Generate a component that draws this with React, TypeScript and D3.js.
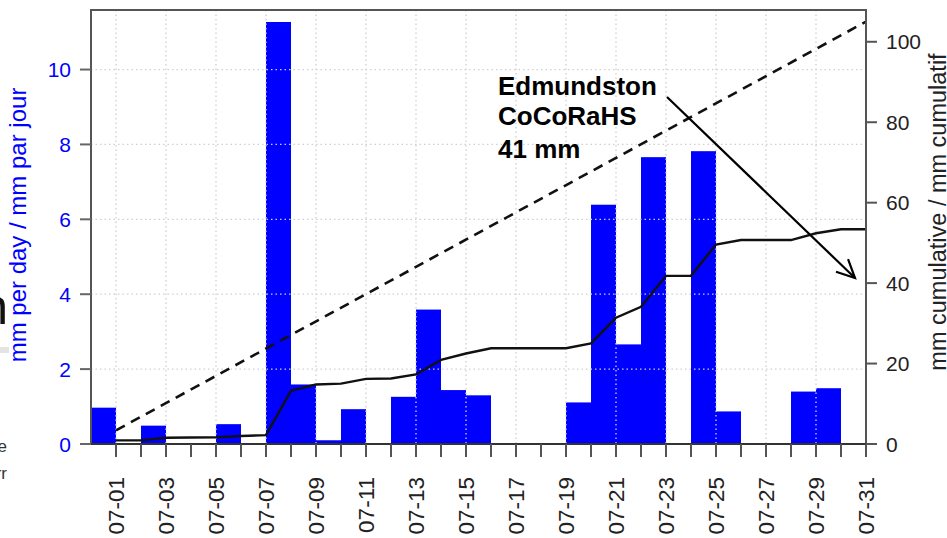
import React from "react";
import * as d3 from "d3";

// ---- data ----
const days: string[] = [
  "07-01","07-02","07-03","07-04","07-05","07-06","07-07","07-08","07-09","07-10",
  "07-11","07-12","07-13","07-14","07-15","07-16","07-17","07-18","07-19","07-20",
  "07-21","07-22","07-23","07-24","07-25","07-26","07-27","07-28","07-29","07-30","07-31",
];
const dailyMm: number[] = [
  0.97, 0, 0.49, 0, 0, 0.53, 0, 11.27, 1.59, 0.1,
  0.93, 0, 1.26, 3.59, 1.44, 1.3, 0, 0, 0, 1.11,
  6.39, 2.66, 7.66, 0, 7.82, 0.87, 0, 0, 1.4, 1.49, 0,
];
const cumulativeMm: number[] = [
  0.9, 0.9, 1.55, 1.6, 1.65, 2.0, 2.2, 13.25, 14.8, 15.0,
  16.2, 16.3, 17.3, 20.9, 22.5, 23.8, 23.8, 23.8, 23.8, 25.0,
  31.4, 34.1, 41.8, 41.8, 49.6, 50.7, 50.7, 50.7, 52.4, 53.4, 53.4,
];
const normalDays: string[] = ["07-01", "07-31"];
const normalMm: number[] = [3.4, 105];
const leftTicks: number[] = [0, 2, 4, 6, 8, 10];
const rightTicks: number[] = [0, 20, 40, 60, 80, 100];
const labelDays: string[] = days.filter((_, i) => i % 2 === 0);
const annotationLines: string[] = ["Edmundston", "CoCoRaHS", "41 mm"];

const FONT = "'Liberation Sans', Arial, Helvetica, sans-serif";

export default function App() {
  const W = 947, H = 538;
  const left = 91, right = 866, top = 10, bottom = 444;

  // day index: 0 = 06-30, i+1 = days[i]
  const x = d3.scaleLinear().domain([0, 31]).range([left, right]);
  const dayPos = (d: string) => days.indexOf(d) + 1;
  const yL = d3.scaleLinear().domain([0, 11.59]).range([bottom, top]);
  const yR = d3.scaleLinear().domain([0, 107.9]).range([bottom, top]);

  const cumLine = d3.line<number>()
    .x((_, i) => x(i + 1))
    .y((v) => yR(v));
  const normLine = d3.line<number>()
    .x((_, i) => x(dayPos(normalDays[i])))
    .y((v) => yR(v));

  // arrow geometry (annotation)
  const a0 = [667, 97], a1 = [855, 278];
  const ang = Math.atan2(a1[1] - a0[1], a1[0] - a0[0]);
  const hl = 20, spread = 0.45;
  const h1 = [a1[0] - hl * Math.cos(ang - spread), a1[1] - hl * Math.sin(ang - spread)];
  const h2 = [a1[0] - hl * Math.cos(ang + spread), a1[1] - hl * Math.sin(ang + spread)];

  const annBaselines = [95, 125, 157.5];

  return (
    <svg width={W} height={H} style={{ position: "absolute", left: 0, top: 0, background: "#fff" }}
      fontFamily={FONT}>
      <rect x={0} y={0} width={W} height={H} fill="#fff" />

      {/* residue of slide text at the left edge */}
      <text x={8} y={324} fontSize={50} textAnchor="end" fill="#111">n</text>
      <rect x={0} y={347} width={9} height={6} fill="#e4e4e4" />
      <text x={7} y={452} fontSize={17} textAnchor="end" fill="#333">ne</text>
      <text x={7} y={479} fontSize={17} textAnchor="end" fill="#333">rr</text>

      {/* bars */}
      {dailyMm.map((v, i) =>
        v > 0 ? (
          <rect key={days[i]} x={x(i)} y={yL(v)} width={x(i + 1) - x(i)} height={yL(0) - yL(v)}
            fill="#0000ff" />
        ) : null
      )}

      {/* gridlines */}
      {labelDays.map((d) => (
        <line key={"gv" + d} x1={x(dayPos(d))} x2={x(dayPos(d))} y1={top} y2={bottom}
          stroke="#cfcfd6" strokeWidth={1.3} strokeDasharray="1.5,3" />
      ))}
      {leftTicks.filter((t) => t > 0).map((t) => (
        <line key={"gh" + t} x1={left} x2={right} y1={yL(t)} y2={yL(t)}
          stroke="#cfcfd6" strokeWidth={1.3} strokeDasharray="1.5,3" />
      ))}

      {/* normal (dashed) and observed cumulative */}
      <path d={normLine(normalMm) || ""} fill="none" stroke="#111" strokeWidth={2.6}
        strokeDasharray="10,7" />
      <path d={cumLine(cumulativeMm) || ""} fill="none" stroke="#111" strokeWidth={2.4} />

      {/* frame */}
      <rect x={left} y={top} width={right - left} height={bottom - top} fill="none"
        stroke="#555" strokeWidth={2} />
      <line x1={left} x2={right} y1={bottom} y2={bottom} stroke="#333" strokeWidth={2} />

      {/* left axis */}
      {leftTicks.map((t) => (
        <g key={"lt" + t}>
          <line x1={left - 11} x2={left} y1={yL(t)} y2={yL(t)} stroke="#666" strokeWidth={2} />
          <text x={71} y={yL(t)} dy="0.36em" fontSize={21} textAnchor="end" fill="#0000ff">{t}</text>
        </g>
      ))}
      <text transform={`translate(26,${225}) rotate(-90)`} fontSize={24} textAnchor="middle"
        fill="#0000ff">mm per day / mm par jour</text>

      {/* right axis */}
      {rightTicks.map((t) => (
        <g key={"rt" + t}>
          <line x1={right} x2={right + 11} y1={yR(t)} y2={yR(t)} stroke="#555" strokeWidth={2} />
          <text x={886} y={yR(t)} dy="0.36em" fontSize={21} textAnchor="start" fill="#222">{t}</text>
        </g>
      ))}
      <text transform={`translate(946,${212}) rotate(-90)`} fontSize={23.5} textAnchor="middle"
        fill="#222">mm cumulative / mm cumulatif</text>

      {/* bottom axis */}
      {days.map((d) => (
        <line key={"bt" + d} x1={x(dayPos(d))} x2={x(dayPos(d))} y1={bottom} y2={bottom + 13}
          stroke="#555" strokeWidth={2} />
      ))}
      {labelDays.map((d) => (
        <text key={"bl" + d} transform={`translate(${x(dayPos(d))},477) rotate(-90)`}
          dy="0.36em" fontSize={22.5} textAnchor="end" fill="#222">{d}</text>
      ))}

      {/* annotation */}
      {annotationLines.map((s, i) => (
        <text key={s} x={498} y={annBaselines[i]} fontSize={26} fontWeight="bold" fill="#000">{s}</text>
      ))}
      <line x1={a0[0]} y1={a0[1]} x2={a1[0]} y2={a1[1]} stroke="#000" strokeWidth={2.2} />
      <polyline points={`${h1[0]},${h1[1]} ${a1[0]},${a1[1]} ${h2[0]},${h2[1]}`} fill="none"
        stroke="#000" strokeWidth={2.2} />
    </svg>
  );
}
